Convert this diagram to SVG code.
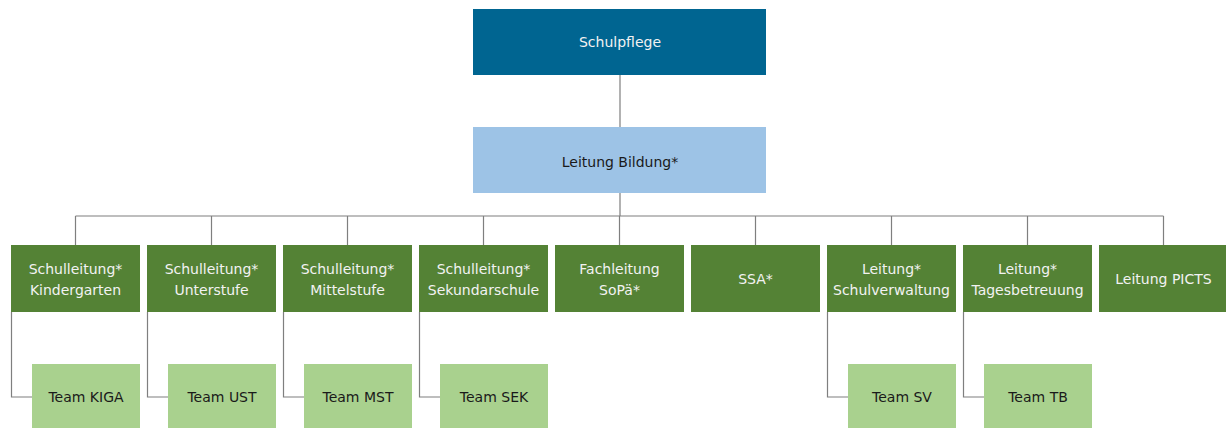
<svg xmlns="http://www.w3.org/2000/svg" width="1226" height="428" viewBox="0 0 1226 428">
<style>
text{font-family:"DejaVu Sans",Verdana,sans-serif;font-size:14px;text-anchor:middle}
.top{fill:#006591}
.mid{fill:#9DC3E6}
.g{fill:#548235}
.t{fill:#A9D18E}
.w{fill:#F2F2F2}
.d{fill:#1A1A1A}
.c{fill:none;stroke:#7F7F7F;stroke-width:1.2}
</style>
<rect width="1226" height="428" fill="#FFFFFF"/>
<g id="connectors">
<path class="c" d="M620,75V127M620,193V216M75.5,216H1163.5M75.5,216V245M211.5,216V245M347.5,216V245M483.5,216V245M619.5,216V245M755.5,216V245M891.5,216V245M1027.5,216V245M1163.5,216V245"/>
<path class="c" d="M11.5,312V397H32M147.5,312V397H168M283.5,312V397H304M419.5,312V397H440M827.5,312V397H848M963.5,312V397H984"/>
</g>
<g id="schulpflege"><rect class="top" x="473" y="9" width="293" height="66"/><text class="w" x="620" y="47">Schulpflege</text></g>
<g id="leitung-bildung"><rect class="mid" x="473" y="127" width="293" height="66"/><text class="d" x="620" y="167">Leitung Bildung*</text></g>
<g id="sl-kiga"><rect class="g" x="11" y="245" width="129" height="67"/><text class="w" x="75.5" y="274">Schulleitung*</text><text class="w" x="75.5" y="295">Kindergarten</text></g>
<g id="sl-ust"><rect class="g" x="147" y="245" width="129" height="67"/><text class="w" x="211.5" y="274">Schulleitung*</text><text class="w" x="211.5" y="295">Unterstufe</text></g>
<g id="sl-mst"><rect class="g" x="283" y="245" width="129" height="67"/><text class="w" x="347.5" y="274">Schulleitung*</text><text class="w" x="347.5" y="295">Mittelstufe</text></g>
<g id="sl-sek"><rect class="g" x="419" y="245" width="129" height="67"/><text class="w" x="483.5" y="274">Schulleitung*</text><text class="w" x="483.5" y="295">Sekundarschule</text></g>
<g id="fl-sopae"><rect class="g" x="555" y="245" width="129" height="67"/><text class="w" x="619.5" y="274">Fachleitung</text><text class="w" x="619.5" y="295">SoPä*</text></g>
<g id="ssa"><rect class="g" x="691" y="245" width="129" height="67"/><text class="w" x="755.5" y="284">SSA*</text></g>
<g id="l-sv"><rect class="g" x="827" y="245" width="129" height="67"/><text class="w" x="891.5" y="274">Leitung*</text><text class="w" x="891.5" y="295">Schulverwaltung</text></g>
<g id="l-tb"><rect class="g" x="963" y="245" width="129" height="67"/><text class="w" x="1027.5" y="274">Leitung*</text><text class="w" x="1027.5" y="295">Tagesbetreuung</text></g>
<g id="l-picts"><rect class="g" x="1099" y="245" width="129" height="67"/><text class="w" x="1163.5" y="284">Leitung PICTS</text></g>
<g id="team-kiga"><rect class="t" x="32" y="364" width="108" height="70"/><text class="d" x="86" y="402">Team KIGA</text></g>
<g id="team-ust"><rect class="t" x="168" y="364" width="108" height="70"/><text class="d" x="222" y="402">Team UST</text></g>
<g id="team-mst"><rect class="t" x="304" y="364" width="108" height="70"/><text class="d" x="358" y="402">Team MST</text></g>
<g id="team-sek"><rect class="t" x="440" y="364" width="108" height="70"/><text class="d" x="494" y="402">Team SEK</text></g>
<g id="team-sv"><rect class="t" x="848" y="364" width="108" height="70"/><text class="d" x="902" y="402">Team SV</text></g>
<g id="team-tb"><rect class="t" x="984" y="364" width="108" height="70"/><text class="d" x="1038" y="402">Team TB</text></g>
</svg>
